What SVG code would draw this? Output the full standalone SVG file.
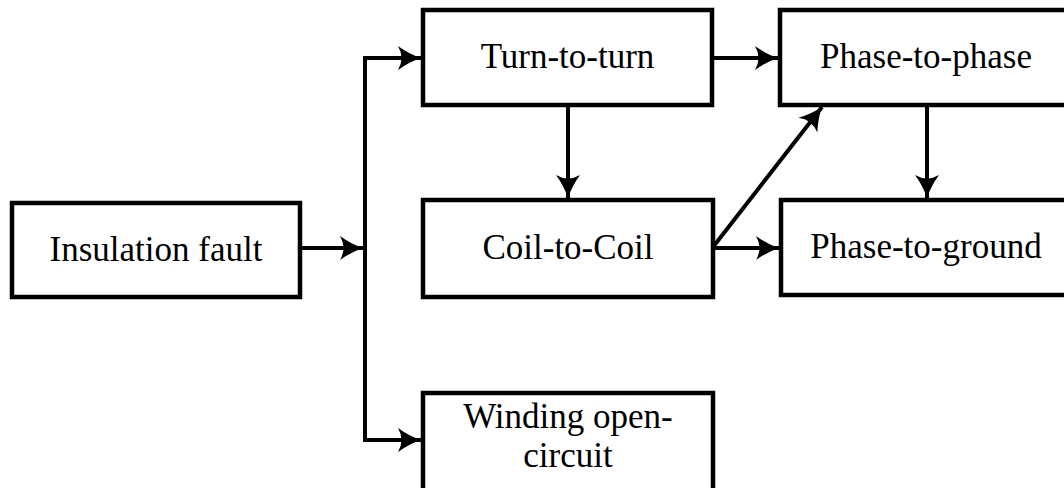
<svg xmlns="http://www.w3.org/2000/svg" width="1064" height="488" viewBox="0 0 1064 488">
<defs>
<style>
.box{fill:#fff;stroke:#000;stroke-width:4.5}
.lbl{font-family:"Liberation Serif","Times New Roman",serif;font-size:35px;fill:#000;text-anchor:middle}
.con{fill:none;stroke:#000;stroke-width:4}
</style>
<marker id="ah" viewBox="-25 -13 27 26" refX="0" refY="0" markerWidth="27" markerHeight="26" markerUnits="userSpaceOnUse" orient="auto">
<path d="M0,0 Q-12,-4 -23,-12 Q-16,0 -23,12 Q-12,4 0,0 Z" fill="#000"/>
</marker>
</defs>
<rect width="1064" height="488" fill="#fff"/>
<g id="connectors">
<line class="con" x1="300" y1="248" x2="363" y2="248" marker-end="url(#ah)"/>
<path class="con" d="M423,58 H365 V440 H421" marker-end="url(#ah)"/>
<path class="con" d="M365,58 H421" marker-end="url(#ah)"/>
<line class="con" x1="712" y1="58" x2="778" y2="58" marker-end="url(#ah)"/>
<line class="con" x1="568" y1="105" x2="568" y2="198" marker-end="url(#ah)"/>
<line class="con" x1="927" y1="105" x2="927" y2="198" marker-end="url(#ah)"/>
<line class="con" x1="713" y1="247" x2="822" y2="107" marker-end="url(#ah)"/>
<line class="con" x1="713" y1="248" x2="779" y2="248" marker-end="url(#ah)"/>
</g>
<g id="insulation-fault">
<rect class="box" x="12" y="203" width="288" height="94"/>
<text class="lbl" x="156" y="261">Insulation fault</text>
</g>
<g id="turn-to-turn">
<rect class="box" x="423" y="10" width="289" height="95"/>
<text class="lbl" x="567.5" y="68">Turn-to-turn</text>
</g>
<g id="coil-to-coil">
<rect class="box" x="423" y="200" width="290" height="97"/>
<text class="lbl" x="568" y="259">Coil-to-Coil</text>
</g>
<g id="winding-open-circuit">
<rect class="box" x="423" y="393" width="290" height="100"/>
<text class="lbl" x="568" y="428">Winding open-</text>
<text class="lbl" x="568" y="467">circuit</text>
</g>
<g id="phase-to-phase">
<rect class="box" x="780" y="10" width="292" height="95"/>
<text class="lbl" x="926" y="68">Phase-to-phase</text>
</g>
<g id="phase-to-ground">
<rect class="box" x="781" y="200" width="291" height="95"/>
<text class="lbl" x="926" y="258">Phase-to-ground</text>
</g>
</svg>
